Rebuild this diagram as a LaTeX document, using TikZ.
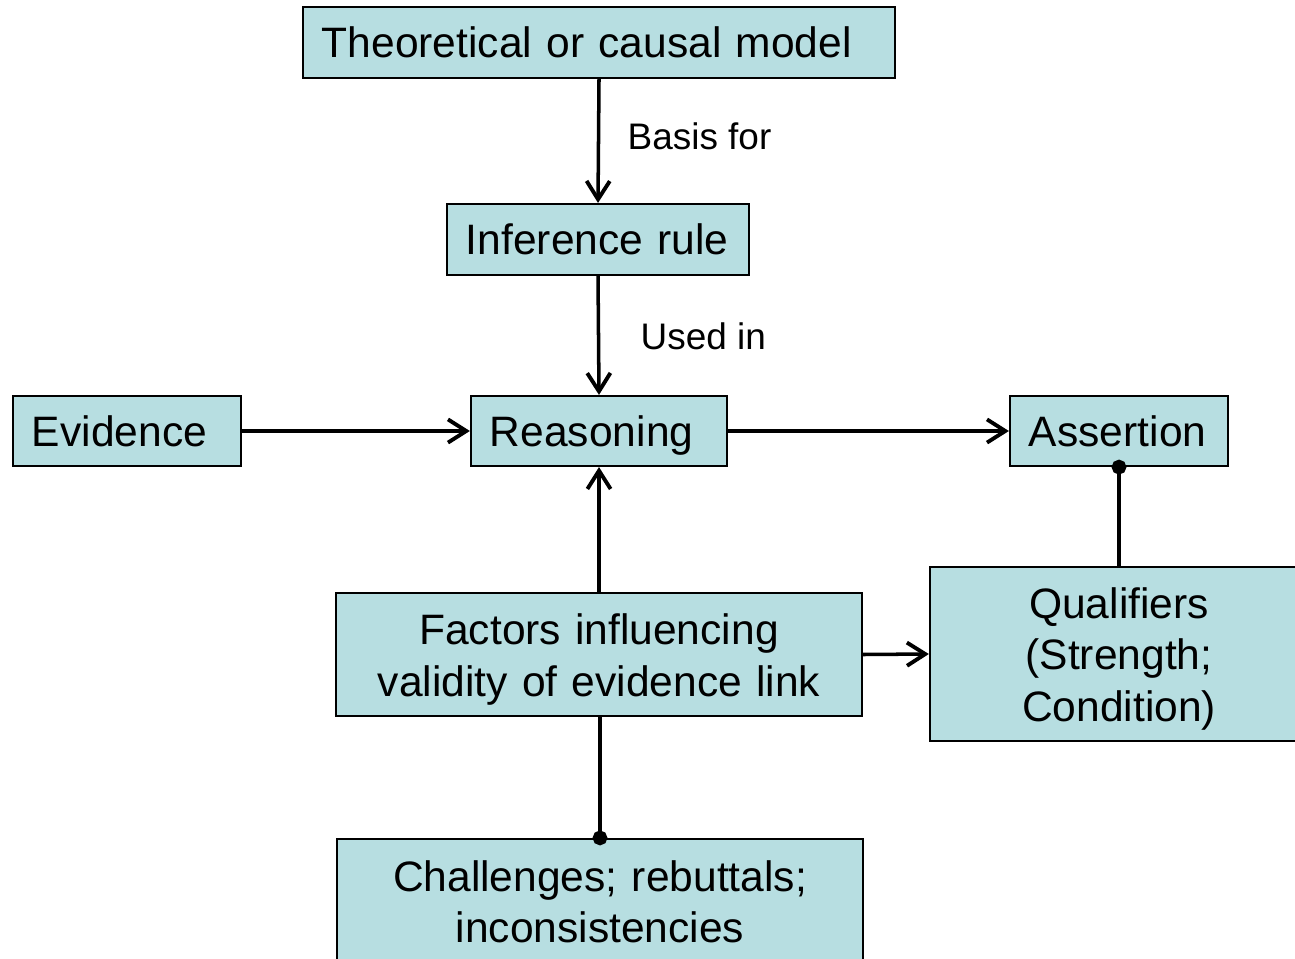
\documentclass[tikz,border=0pt]{standalone}
\usepackage{fontspec}
\setmainfont{Liberation Sans}
\usetikzlibrary{arrows.meta}
\definecolor{boxfill}{RGB}{183,222,225}
\begin{document}
\begin{tikzpicture}[x=0.01cm,y=-0.01cm,
  box/.style={draw=black, line width=0.6pt, fill=boxfill, inner ysep=0pt,
    font=\fontsize{12.1}{14.6}\selectfont},
  % one-line boxes: text starts at a fixed inset from the left edge
  onebox/.style={box, align=left, inner xsep=0.19cm, text width=#1-0.38cm,
    text depth=0pt, minimum width=#1, minimum height=0.70cm},
  % several-line boxes: centred text
  multibox/.style={box, align=center, inner xsep=0pt, text width=#1, minimum width=#1},
  lbl/.style={anchor=west, inner sep=0pt, font=\fontsize{10.5}{12.6}\selectfont},
  link/.style={line width=1pt, -{Straight Barb[length=5.2pt,width=6.6pt,line width=1.1pt]}},
  dotlink/.style={line width=1pt, -{Circle[length=4.2pt]}, shorten >=-2.1pt}]
\useasboundingbox (0,0) rectangle (1295,958);
\clip (0,0) rectangle (1295,958);

% boxes
\node[onebox=5.92cm, minimum height=0.71cm] (model) at (599,42.5) {Theoretical or causal model};
\node[onebox=3.02cm, minimum height=0.71cm] (rule) at (598,239.5) {Inference~rule};
\node[onebox=2.28cm] (evidence) at (127,431) {Evidence};
\node[onebox=2.56cm] (reasoning) at (599,431) {Reasoning};
\node[onebox=2.18cm] (assertion) at (1119,431) {Assertion};
\node[multibox=5.26cm, minimum height=1.23cm, text height=11.6pt] (factors) at (599,654.5) {Factors influencing\\validity of evidence link};
\node[multibox=3.78cm, minimum height=1.74cm, text height=11.6pt] (qualifiers) at (1119,654) {Qualifiers\\(Strength;\\Condition)};
\node[multibox=5.26cm, minimum height=1.26cm] (challenges) at (600,902) {Challenges; rebuttals;\\inconsistencies};

% connectors
\draw[link] (model.south) -- (rule.north);
\node[lbl] (basis) at (627,136) {Basis for};
\draw[link] (rule.south) -- (reasoning.north);
\node[lbl] (usedin) at (640,336) {Used in};
\draw[link] (evidence.east) -- (reasoning.west);
\draw[link] (reasoning.east) -- (assertion.west);
\draw[link] (factors.north -| reasoning.south) -- (reasoning.south);
\draw[link] (factors.east) -- (qualifiers.west);
\draw[dotlink] (qualifiers.north) -- (assertion.south);
\draw[dotlink] (factors.south -| challenges.north) -- (challenges.north);
\end{tikzpicture}
\end{document}
